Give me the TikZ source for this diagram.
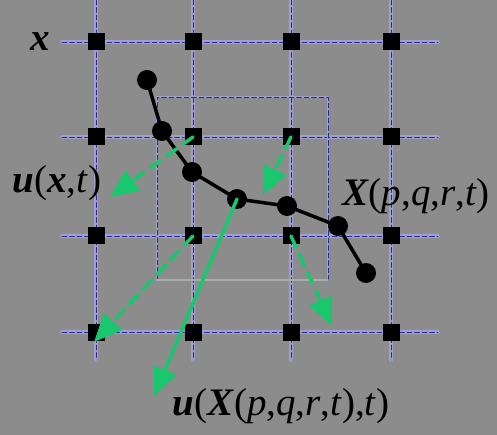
\documentclass[tikz,border=0pt]{standalone}
\usepackage{fontspec}
\setmainfont{Liberation Serif}
\usetikzlibrary{arrows.meta}
\definecolor{bgray}{RGB}{140,140,140}
\definecolor{gridblue}{RGB}{40,40,150}
\definecolor{halo}{RGB}{160,160,205}
\definecolor{vgreen}{RGB}{25,200,110}
\definecolor{faint}{RGB}{172,172,172}
\newcommand{\bi}[1]{\textbf{\textit{#1}}}
\tikzset{
  gridhalo/.style={halo, line width=3.5pt},
  gridline/.style={gridblue, line width=0.9pt, dash pattern=on 5pt off 2.5pt},
  knot/.style={fill=black, minimum size=17pt, inner sep=0pt},
  bead/.style={circle, fill=black, minimum size=20pt, inner sep=0pt},
  vel/.style={vgreen, line width=3.5pt, -{Triangle[length=28pt,width=24pt]}},
  veld/.style={vel, dash pattern=on 13pt off 7pt},
  lbl/.style={font=\fontsize{39}{44}\selectfont, inner sep=0pt}
}
\begin{document}
\begin{tikzpicture}[x=1pt, y=-1pt, line join=round, line cap=round]
\fill[bgray] (0,0) rectangle (497,435);
\useasboundingbox (0,0) rectangle (497,435);
% Euler grid
\foreach \x in {96,193,291,391} {
  \draw[gridhalo] (\x,0) -- (\x,360);
  \draw[gridline] (\x,0) -- (\x,360);
}
\foreach \y in {42,137,236,332} {
  \draw[gridhalo] (62,\y) -- (438,\y);
  \draw[gridline] (62,\y) -- (438,\y);
}
% support box
\draw[gridhalo, line width=2pt] (157,280) -- (157,97) -- (328,97) -- (328,280);
\draw[gridline, line width=0.7pt] (157,280) -- (157,97) -- (328,97) -- (328,280);
\draw[faint, line width=1.5pt] (157,280) -- (328,280);
\foreach \i/\x in {1/96,2/193,3/291,4/391}
  \foreach \j/\y in {1/42,2/137,3/236,4/332}
    \node[knot] (g\i\j) at (\x,\y) {};
% Lagrangian fibre
\foreach \n/\x/\y in {1/147/80,2/162/131,3/192/172,4/237/199,5/287/206,6/338/226,7/366/273}
  \node[bead] (c\n) at (\x,\y) {};
\draw[line width=3.5pt] (c1.center) -- (c2.center) -- (c3.center) -- (c4.center)
  -- (c5.center) -- (c6.center) -- (c7.center);
% velocities
\coordinate (v1) at (110,197);
\coordinate (v2) at (263,195);
\coordinate (v3) at (154,396);
\coordinate (v4) at (94,342);
\coordinate (v5) at (332,326);
\draw[veld] (g22.center) -- (v1);
\draw[veld] (g32.center) -- (v2);
\draw[vel] (c4.center) -- (v3);
\draw[veld] (g23.center) -- (v4);
\draw[veld] (g33.center) -- (v5);
% labels
\node[lbl] (xl) at (40,42) {\bi{x}};
\node[lbl] (ul) at (57,183) {\bi{u}(\bi{x},\textit{t})};
\node[lbl] (Xl) at (416,196) {\bi{X}(\textit{p},\textit{q},\textit{r},\textit{t})};
\node[lbl] (uXl) at (281,406) {\bi{u}(\bi{X}(\textit{p},\textit{q},\textit{r},\textit{t}),\textit{t})};
\end{tikzpicture}
\end{document}
